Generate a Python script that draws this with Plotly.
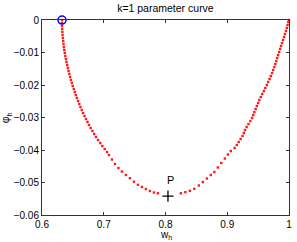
import plotly.graph_objects as go

# Parameter curve points
w_left = [0.6324, 0.6324, 0.6324, 0.6327, 0.6330, 0.6333, 0.6338, 0.6343, 0.6348, 0.6354,
          0.6361, 0.6369, 0.6377, 0.6387, 0.6396, 0.6408, 0.6419, 0.6430, 0.6443, 0.6456,
          0.6469, 0.6484, 0.6498, 0.6515, 0.6531, 0.6547, 0.6565, 0.6584, 0.6604, 0.6623,
          0.6644, 0.6665, 0.6688, 0.6712, 0.6736, 0.6761, 0.6788, 0.6816, 0.6845, 0.6875,
          0.6908, 0.6942, 0.6977, 0.7015, 0.7053,
          0.7084, 0.7133, 0.7181, 0.7238, 0.7294, 0.7359, 0.7424, 0.7489, 0.7553, 0.7618,
          0.7683, 0.7748, 0.7812, 0.7877]
phi_left = [0.0, -0.00092, -0.00185, -0.00277, -0.00369, -0.00462, -0.00554, -0.00646, -0.00738, -0.00831,
            -0.00923, -0.01015, -0.01108, -0.01200, -0.01292, -0.01385, -0.01477, -0.01569, -0.01662, -0.01754,
            -0.01846, -0.01938, -0.02031, -0.02123, -0.02215, -0.02308, -0.02400, -0.02492, -0.02585, -0.02677,
            -0.02769, -0.02862, -0.02954, -0.03046, -0.03138, -0.03231, -0.03323, -0.03415, -0.03508, -0.03600,
            -0.03692, -0.03785, -0.03877, -0.03969, -0.04062,
            -0.04154, -0.04292, -0.04431, -0.04554, -0.04662, -0.04769, -0.04868, -0.04975, -0.05071, -0.05138,
            -0.05200, -0.05262, -0.05308, -0.05332]

w_right = [0.8249, 0.8322, 0.8395, 0.8467, 0.8540, 0.8605, 0.8670, 0.8734, 0.8791, 0.8848,
           0.8904, 0.8961, 0.9010, 0.9058,
           0.9120, 0.9155, 0.9186, 0.9217, 0.9249, 0.9268, 0.9288, 0.9314, 0.9344, 0.9374,
           0.9401, 0.9421, 0.9440, 0.9459, 0.9479, 0.9500, 0.9519, 0.9543, 0.9568, 0.9592,
           0.9616, 0.9641, 0.9663, 0.9686, 0.9705, 0.9726, 0.9744, 0.9762, 0.9778, 0.9794,
           0.9809, 0.9823, 0.9840, 0.9856, 0.9870, 0.9886, 0.9903, 0.9919, 0.9935, 0.9951,
           0.9964, 0.9977, 0.9989, 1.0]
phi_right = [-0.05332, -0.05298, -0.05255, -0.05194, -0.05092, -0.04985, -0.04877, -0.04769, -0.04677, -0.04538,
             -0.04400, -0.04262, -0.04138, -0.04031,
             -0.03938, -0.03846, -0.03754, -0.03662, -0.03569, -0.03477, -0.03385, -0.03292, -0.03200, -0.03108,
             -0.03015, -0.02923, -0.02831, -0.02738, -0.02646, -0.02554, -0.02462, -0.02369, -0.02277, -0.02185,
             -0.02092, -0.02000, -0.01908, -0.01815, -0.01723, -0.01631, -0.01538, -0.01446, -0.01354, -0.01262,
             -0.01169, -0.01077, -0.00985, -0.00892, -0.00800, -0.00708, -0.00615, -0.00523, -0.00431, -0.00338,
             -0.00246, -0.00154, -0.00062, 0.0]

start_point = (0.6324, 0.0)
p_point = (0.804, -0.0542)
p_label = "P"
p_label_pos = (0.808, -0.0492)

x_ticks = [0.6, 0.7, 0.8, 0.9, 1.0]
x_ticktext = ["0.6", "0.7", "0.8", "0.9", "1"]
y_ticks = [0, -0.01, -0.02, -0.03, -0.04, -0.05, -0.06]
y_ticktext = ["0", "\u22120.01", "\u22120.02", "\u22120.03", "\u22120.04", "\u22120.05", "\u22120.06"]

FONT = "Liberation Sans, Arial, sans-serif"

fig = go.Figure()
fig.add_trace(go.Scatter(x=w_left + w_right, y=phi_left + phi_right, mode="markers",
                         marker=dict(symbol="square", size=2.4, color="#ff1a1a", line=dict(width=0)),
                         cliponaxis=False, showlegend=False, hoverinfo="skip"))
fig.add_trace(go.Scatter(x=[start_point[0]], y=[start_point[1]], mode="markers",
                         marker=dict(symbol="circle-open", size=8, color="#0000ff", line=dict(width=1.5)),
                         cliponaxis=False, showlegend=False, hoverinfo="skip"))
fig.add_trace(go.Scatter(x=[p_point[0]], y=[p_point[1]], mode="markers",
                         marker=dict(symbol="cross-thin", size=8, color="black", line=dict(width=1.3, color="black")),
                         cliponaxis=False, showlegend=False, hoverinfo="skip"))

fig.add_annotation(x=p_label_pos[0], y=p_label_pos[1], text=p_label, showarrow=False,
                   font=dict(size=11, color="black", family=FONT))

# axis titles as paper annotations
fig.add_annotation(xref="paper", yref="paper", x=0.5, y=-0.06, yanchor="top", xanchor="center",
                   text="w<sub>h</sub>", showarrow=False, font=dict(size=10, color="black", family=FONT))
fig.add_annotation(xref="paper", yref="paper", x=-0.11, xanchor="right", y=0.5, yanchor="middle",
                   text="\u03c6<sub>h</sub>", textangle=-90, showarrow=False,
                   font=dict(size=10.5, color="black", family=FONT))

axis_common = dict(showline=True, linecolor="#333333", linewidth=1, mirror="ticks",
                   ticks="inside", ticklen=3, tickcolor="#333333", showgrid=False, zeroline=False,
                   automargin=False,
                   tickfont=dict(family=FONT, size=10, color="black"))

fig.update_layout(
    width=297, height=242,
    margin=dict(l=42, r=8, t=20, b=27, autoexpand=False),
    paper_bgcolor="white", plot_bgcolor="white",
    font=dict(family=FONT, color="black"),
    title=dict(text="k=1 parameter curve", x=0.557, xanchor="center", y=0.965, yanchor="middle",
               font=dict(size=10.5, color="black")),
    xaxis=dict(range=[0.6, 1.00001], tickvals=x_ticks, ticktext=x_ticktext, **axis_common),
    yaxis=dict(range=[-0.06, 0.00001], tickvals=y_ticks, ticktext=y_ticktext, **axis_common),
)

fig.write_html("out.html", config={"displayModeBar": False},
               post_script="document.body.style.margin='0';document.body.style.padding='0';")
